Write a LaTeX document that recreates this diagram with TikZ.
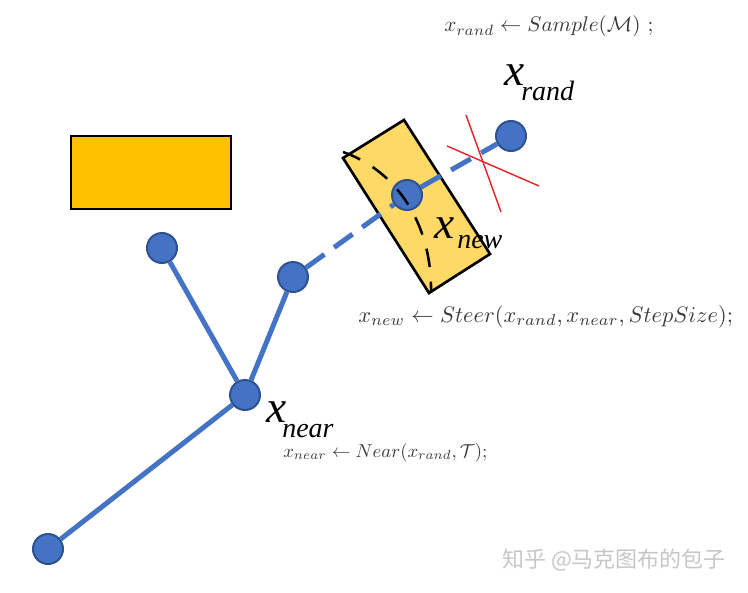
\documentclass[tikz,border=0pt]{standalone}
\usepackage{graphicx}
\usepackage{fontspec}
\newfontfamily\lserif{Liberation Serif}
\newfontfamily\cjk{Noto Sans CJK SC}
\definecolor{nodeblue}{HTML}{4472C4}
\definecolor{nodeedge}{HTML}{2F528F}
\definecolor{obst}{HTML}{FFC000}
\definecolor{steerbox}{HTML}{FFD966}
\definecolor{redx}{HTML}{E02A30}
\definecolor{formula}{HTML}{3A3A3A}
\tikzset{
  vertex/.style={circle, fill=nodeblue, draw=nodeedge, line width=1.5pt, minimum size=22.5pt, inner sep=0pt},
  treeedge/.style={draw=nodeblue, line width=3.75pt},
  dashedge/.style={draw=nodeblue, line width=3.75pt, dash pattern=on 17pt off 9pt},
  bigx/.style={inner sep=0pt, anchor=base west, font=\lserif\itshape\fontsize{34}{36}\selectfont},
  subx/.style={inner sep=0pt, anchor=base west, font=\lserif\itshape\fontsize{21}{22}\selectfont},
  formulatext/.style={inner sep=0pt, anchor=base west, text=formula},
  crossline/.style={draw=redx, line width=1.1pt},
  arcline/.style={draw=black, line width=1.9pt, dash pattern=on 14pt off 11pt}
}
\begin{document}
\begin{tikzpicture}[x=0.75pt,y=-0.75pt]
\useasboundingbox (0,0) rectangle (748,592);
% obstacle
\node[draw=black, fill=obst, line width=2pt, minimum width=120pt, minimum height=54.75pt, inner sep=0pt] (obstacle) at (151,172.5) {};
% steer box (rotated)
\coordinate (s1) at (343,158);
\coordinate (s2) at (404,120);
\coordinate (s3) at (490,254);
\coordinate (s4) at (429,293);
\draw[fill=steerbox, line width=2pt, line join=miter] (s1) -- (s2) -- (s3) -- (s4) -- cycle;
% vertices
\node[vertex] (A) at (48,549) {};
\node[vertex] (B) at (245,395) {};
\node[vertex] (C) at (162,248) {};
\node[vertex] (D) at (293,277) {};
\node[vertex] (E) at (407,195) {};
\node[vertex] (F) at (511,136) {};
% edges
\draw[treeedge] (A) -- (B);
\draw[treeedge] (B) -- (C);
\draw[treeedge] (B) -- (D);
\draw[dashedge] (D) -- (E);
\draw[dashedge] (E) -- (F);
% step-size arc
\coordinate (a1) at (343,152);
\coordinate (a2) at (431,292);
\draw[arcline] (a1) .. controls (395,170) and (432,222) .. (a2);
% red cross
\coordinate (r1) at (447,146);
\coordinate (r2) at (539,186);
\coordinate (r3) at (466,115);
\coordinate (r4) at (501,212);
\draw[crossline] (r1) -- (r2);
\draw[crossline] (r3) -- (r4);
% labels
\node[bigx] (xr) at (504,85) {x};
\node[subx] (xrs) at (521,100) {rand};
\node[bigx] (xn) at (434,238) {x};
\node[subx] (xns) at (457,248) {new};
\node[bigx] (xa) at (266,422) {x};
\node[subx] (xas) at (282,437) {near};
% formulas
\node[formulatext] (f1) at (444,32) {\resizebox{157pt}{!}{$x_{rand} \leftarrow Sample(\mathcal{M})\ ;$}};
\node[formulatext] (f2) at (358,322) {\resizebox{281pt}{!}{$x_{new} \leftarrow Steer(x_{rand}, x_{near}, StepSize);$}};
\node[formulatext] (f3) at (283,457) {\resizebox{153pt}{!}{$x_{near} \leftarrow Near(x_{rand}, \mathcal{T});$}};
% watermark
\node[inner sep=0pt, text=gray!45, font=\cjk\fontsize{16.5}{18}\selectfont] (wm) at (614,560) {知乎 @马克图布的包子};
\end{tikzpicture}
\end{document}
